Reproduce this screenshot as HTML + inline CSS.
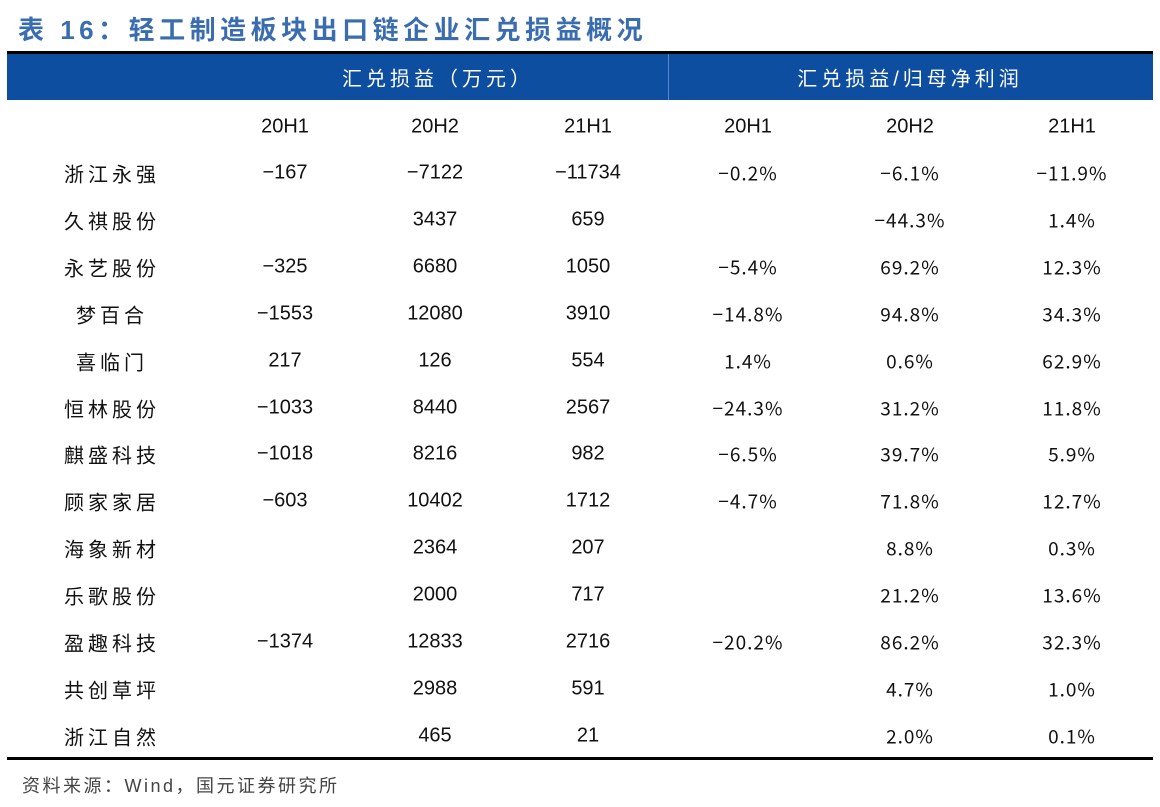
<!DOCTYPE html>
<html><head><meta charset="utf-8"><style>
body{margin:0;width:1160px;height:807px;background:#fff;position:relative;overflow:hidden;font-family:"Liberation Sans","Noto Sans CJK SC",sans-serif}
.a{position:absolute}
.c{position:absolute;transform:translate(-50%,-50%);white-space:nowrap;font-size:20px;color:#111}
.n{font-family:"Liberation Sans Narrow","Liberation Sans","Noto Sans CJK SC",sans-serif}
.m{font-family:"Noto Sans CJK SC",sans-serif;font-size:19px;letter-spacing:1px}
.z{letter-spacing:4px}
</style></head><body>
<div class="a" style="left:18px;top:10px;font-size:26px;font-weight:bold;color:#3a6db0;letter-spacing:4.5px">表 16：轻工制造板块出口链企业汇兑损益概况</div>
<div class="a" style="left:7px;top:51px;width:1146px;height:3px;background:#000"></div>
<div class="a" style="left:7px;top:54px;width:1146px;height:46px;background:#0e4ea0"></div>
<div class="a" style="left:668px;top:54px;width:1px;height:46px;background:#5a86c4"></div>
<div class="c" style="left:438px;top:77px;color:#fff;letter-spacing:4px">汇兑损益（万元）</div>
<div class="c" style="left:910px;top:77px;color:#fff;letter-spacing:4px">汇兑损益/归母净利润</div>
<div class="a" style="left:7px;top:757px;width:1146px;height:3px;background:#000"></div>
<div class="a" style="left:22px;top:772px;font-size:18px;color:#444;letter-spacing:2.5px">资料来源：Wind，国元证券研究所</div>
<div id="t"></div>
<script>
const cols=["20H1","20H2","21H1","20H1","20H2","21H1"];
const names=["浙江永强","久祺股份","永艺股份","梦百合","喜临门","恒林股份","麒盛科技","顾家家居","海象新材","乐歌股份","盈趣科技","共创草坪","浙江自然"];
const fx=[["−167","−7122","−11734"],["","3437","659"],["−325","6680","1050"],["−1553","12080","3910"],["217","126","554"],["−1033","8440","2567"],["−1018","8216","982"],["−603","10402","1712"],["","2364","207"],["","2000","717"],["−1374","12833","2716"],["","2988","591"],["","465","21"]];
const ratio=[["−0.2%","−6.1%","−11.9%"],["","−44.3%","1.4%"],["−5.4%","69.2%","12.3%"],["−14.8%","94.8%","34.3%"],["1.4%","0.6%","62.9%"],["−24.3%","31.2%","11.8%"],["−6.5%","39.7%","5.9%"],["−4.7%","71.8%","12.7%"],["","8.8%","0.3%"],["","21.2%","13.6%"],["−20.2%","86.2%","32.3%"],["","4.7%","1.0%"],["","2.0%","0.1%"]];
const cx=[285,435,588,748,910,1072];
const t=document.getElementById('t');
function cell(x,y,txt,name,cls){const d=document.createElement('div');d.className='c '+(cls||'');d.style.left=x+'px';d.style.top=y+'px';d.textContent=txt;


t.appendChild(d);}
cols.forEach((c,i)=>cell(cx[i],127,c,'column-header','n'));
names.forEach((nm,r)=>{const y=173+r*46.9;
cell(112,y,nm,'company-name','z');
fx[r].forEach((v,i)=>{if(v)cell(cx[i],y,v,'fx-value','n');});
ratio[r].forEach((v,i)=>{if(v)cell(cx[i+3],y,v,'ratio-value','m');});});
</script>
</body></html>
